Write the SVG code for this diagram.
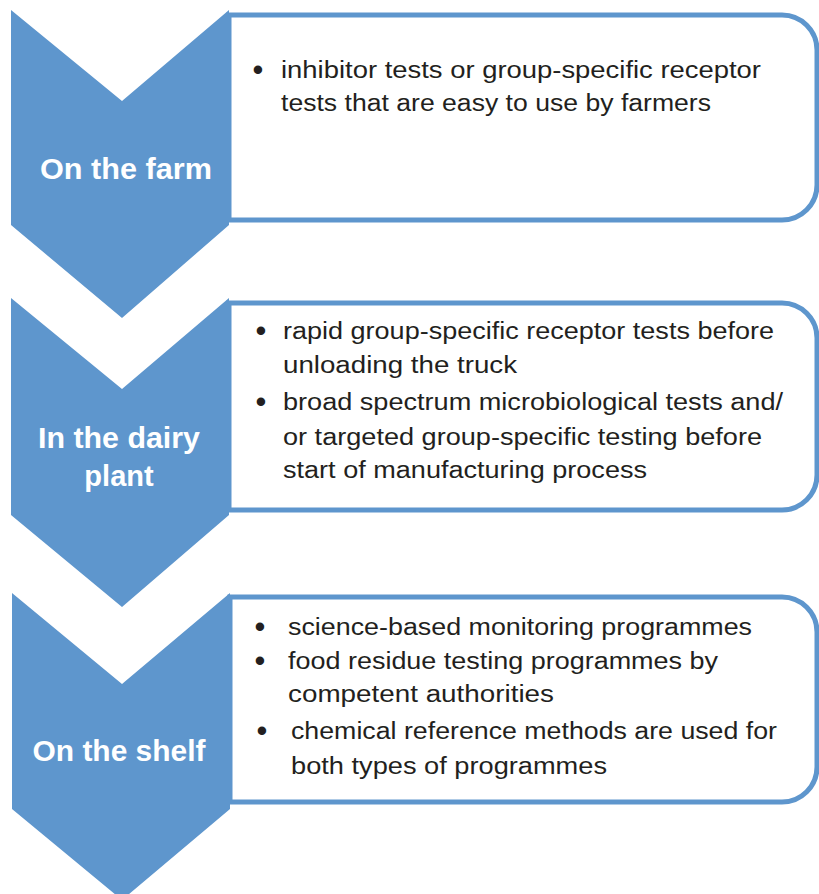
<svg xmlns="http://www.w3.org/2000/svg" width="819" height="894" viewBox="0 0 819 894">
<style>
.chev{fill:#5E96CD;}
.box{fill:#FFFFFF;stroke:#5E96CD;stroke-width:5;}
.lbl{font-family:"Liberation Sans",Arial,sans-serif;font-weight:bold;font-size:29px;fill:#FFFFFF;text-anchor:middle;}
.txt{font-family:"Liberation Sans",Arial,sans-serif;font-size:23.5px;fill:#231F20;}
.bul{font-family:"Liberation Sans",Arial,sans-serif;font-size:31px;fill:#231F20;text-anchor:middle;}
</style>
<rect width="819" height="894" fill="#FFFFFF"/>
<g id="step1">
<path class="box" d="M229,15 H782 A35,35 0 0 1 817,50 V185 A35,35 0 0 1 782,220 H229 Z"/>
<polygon class="chev" points="11,10 122,101 229,10 229,225 122,318 11,225"/>
<text class="lbl" x="126" y="179" textLength="172" lengthAdjust="spacingAndGlyphs">On the farm</text>
<text class="bul" x="258" y="80">•</text>
<text class="txt" x="281" y="78" textLength="480" lengthAdjust="spacingAndGlyphs">inhibitor tests or group-specific receptor</text>
<text class="txt" x="281" y="111" textLength="430" lengthAdjust="spacingAndGlyphs">tests that are easy to use by farmers</text>
</g>
<g id="step2">
<path class="box" d="M229,303 H782 A35,35 0 0 1 817,338 V475 A35,35 0 0 1 782,510 H229 Z"/>
<polygon class="chev" points="11,298 122,389 229,298 229,515 122,607 11,515"/>
<text class="lbl" x="119" y="448" textLength="162" lengthAdjust="spacingAndGlyphs">In the dairy</text>
<text class="lbl" x="119" y="486">plant</text>
<text class="bul" x="261" y="341">•</text>
<text class="txt" x="283" y="339" textLength="491" lengthAdjust="spacingAndGlyphs">rapid group-specific receptor tests before</text>
<text class="txt" x="283" y="373" textLength="234" lengthAdjust="spacingAndGlyphs">unloading the truck</text>
<text class="bul" x="261" y="412">•</text>
<text class="txt" x="283" y="410" textLength="500" lengthAdjust="spacingAndGlyphs">broad spectrum microbiological tests and/</text>
<text class="txt" x="283" y="445" textLength="479" lengthAdjust="spacingAndGlyphs">or targeted group-specific testing before</text>
<text class="txt" x="283" y="478" textLength="364" lengthAdjust="spacingAndGlyphs">start of manufacturing process</text>
</g>
<g id="step3">
<path class="box" d="M230,597 H782 A35,35 0 0 1 817,632 V767 A35,35 0 0 1 782,802 H230 Z"/>
<polygon class="chev" points="12,593 122,684 230,593 230,809 122,900 12,809"/>
<text class="lbl" x="119" y="761" textLength="173" lengthAdjust="spacingAndGlyphs">On the shelf</text>
<text class="bul" x="260" y="637">•</text>
<text class="txt" x="288" y="635" textLength="464" lengthAdjust="spacingAndGlyphs">science-based monitoring programmes</text>
<text class="bul" x="260" y="671">•</text>
<text class="txt" x="288" y="669" textLength="430" lengthAdjust="spacingAndGlyphs">food residue testing programmes by</text>
<text class="txt" x="288" y="702" textLength="266" lengthAdjust="spacingAndGlyphs">competent authorities</text>
<text class="bul" x="262" y="741">•</text>
<text class="txt" x="291" y="739" textLength="486" lengthAdjust="spacingAndGlyphs">chemical reference methods are used for</text>
<text class="txt" x="291" y="774" textLength="316" lengthAdjust="spacingAndGlyphs">both types of programmes</text>
</g>
<g id="connectors"></g>
</svg>
